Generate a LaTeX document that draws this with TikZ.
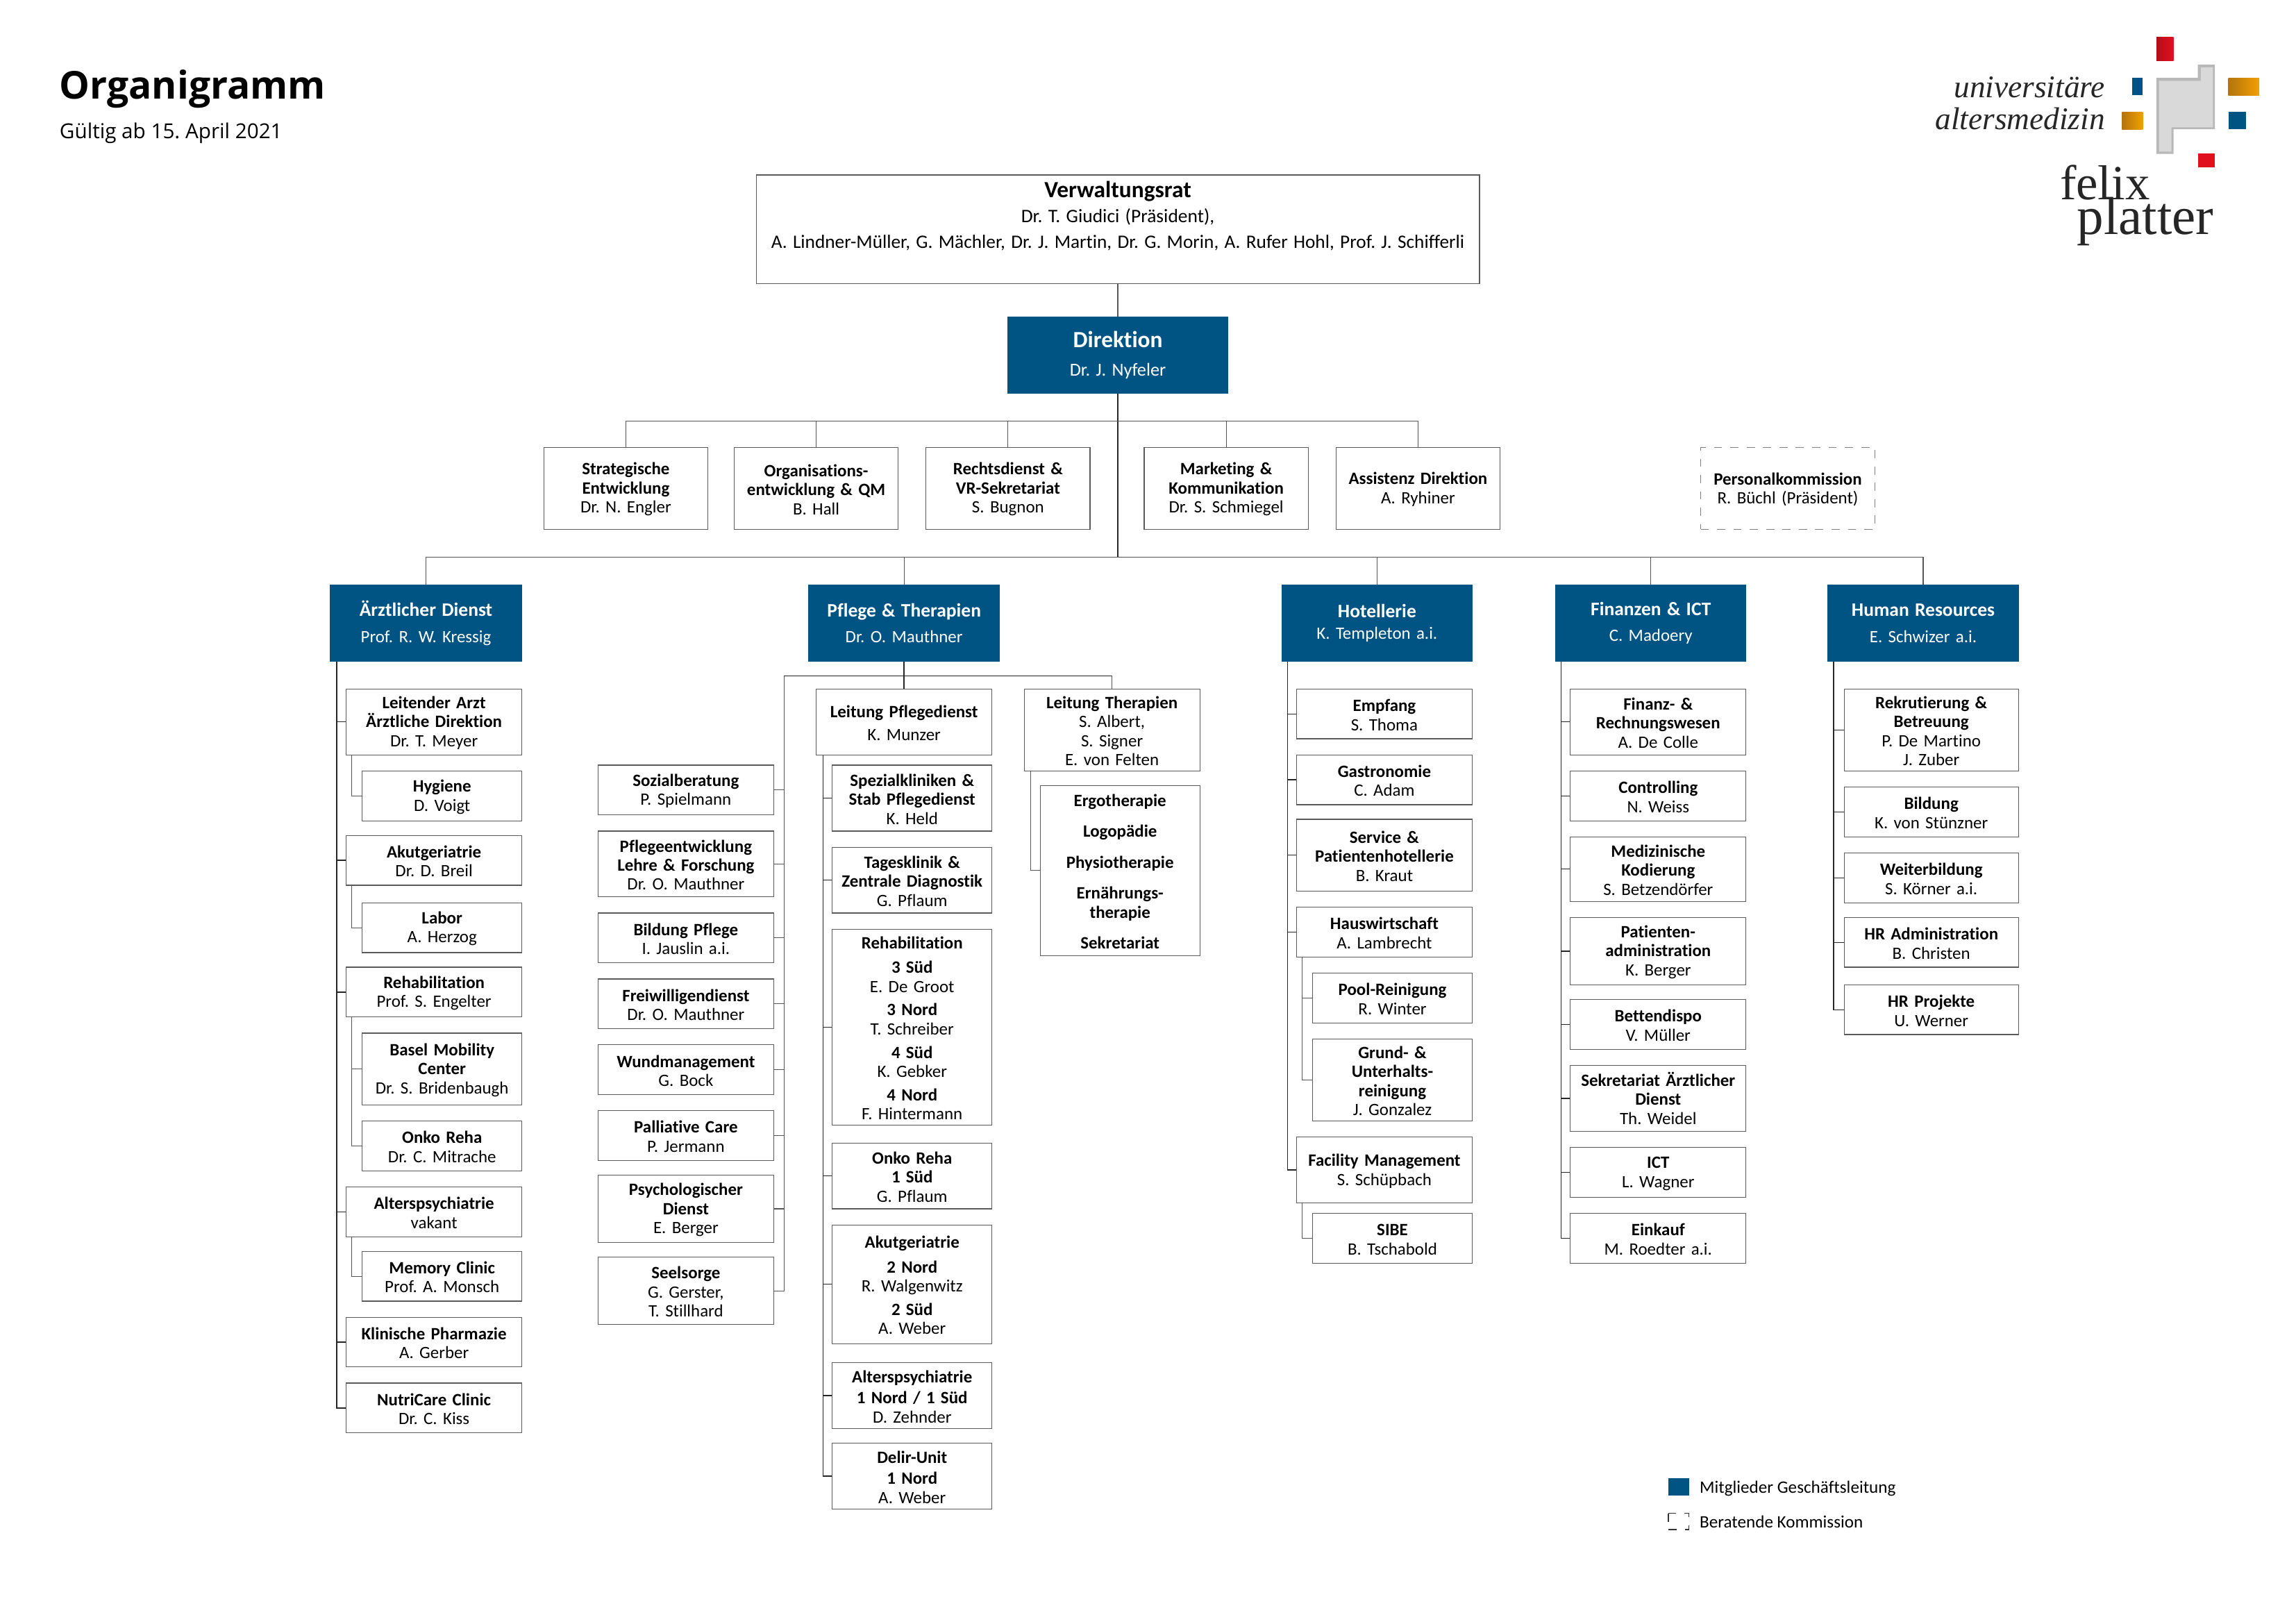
\documentclass[tikz,border=0pt]{standalone}
\usepackage{fontspec}
\setmainfont{Carlito}[Ligatures=NoCommon]
\newfontfamily\opn{Open Sans}
\newfontfamily\logofont{Liberation Serif}
\frenchspacing
\definecolor{ufpblue}{HTML}{005483}
\definecolor{edgegray}{HTML}{5A5A5A}
\definecolor{linkgray}{HTML}{555555}
\definecolor{logored}{HTML}{E1101F}
\definecolor{logoor}{HTML}{F2A000}
\definecolor{logoordark}{HTML}{B4740F}
\definecolor{logogray}{HTML}{D9D9D9}
\tikzset{
  boxst/.style={draw=edgegray,line width=.3pt,inner sep=0pt,align=center,font=\fontsize{6.35}{7}\selectfont},
  bluest/.style={fill=ufpblue,draw=ufpblue,line width=.3pt,inner sep=0pt,align=center,text=white,font=\fontsize{6.35}{9.6}\selectfont},
  dashst/.style={boxst,draw=gray,dashed,line width=.4pt},
  link/.style={draw=linkgray,line width=.3pt},
  spine/.style={draw=black!85,line width=.35pt},
  plainst/.style={inner sep=0pt,anchor=base west},
  logotext/.style={inner sep=0pt,anchor=base east,text=black!85,font=\logofont\itshape\fontsize{11.55}{12}\selectfont},
}
\newcommand{\bx}[6]{\node[boxst,text width={(#4-#2)*0.537pt},minimum height={(#5-#3)*0.537pt}] (#1) at ({(#2+#4)/2},{(#3+#5)/2}) {\rule{0pt}{5.2pt}#6};}
\newcommand{\bl}[6]{\node[bluest,text width={(#4-#2)*0.537pt},minimum height={(#5-#3)*0.537pt}] (#1) at ({(#2+#4)/2},{(#3+#5)/2}) {#6};}
\newcommand{\hd}[1]{\textbf{#1}}
\newcommand{\hb}[1]{{\fontsize{7}{9.6}\selectfont\textbf{#1}}}
\begin{document}
\begin{tikzpicture}[x=0.537pt,y=-0.537pt]
\useasboundingbox (-0.4,0.5) rectangle (1567.6,1109.1);
% title
\node[plainst,font=\opn\fontsize{14.05}{15}\selectfont\bfseries] (title) at (40,68) {Organigramm};
\node[plainst,font=\opn\fontsize{7.55}{9}\selectfont] (sub) at (40,95) {Gültig ab 15. April 2021};
% logo
\shade[left color=logored!80!black,right color=logored] (1472.3,26) rectangle (1484,42);
\fill[ufpblue] (1455.7,53.7) rectangle (1463,65.6);
\shade[left color=logoordark,right color=logoor] (1521.4,53.7) rectangle (1542.5,65.6);
\shade[left color=logoordark,right color=logoor] (1448.8,77) rectangle (1463,88.8);
\fill[ufpblue] (1521.4,77) rectangle (1533.2,88.8);
\fill[logored] (1500.5,105.4) rectangle (1512.2,114.6);
\fill[logogray!85!black] (1500.5,44.6) -- (1512.2,44.6) -- (1512.2,88.8) -- (1484,88.8) -- (1484,105.6) -- (1472.2,105.6) -- (1472.2,53.7) -- (1500.5,53.7) -- cycle;
\fill[logogray] (1502.5,46.6) -- (1510.8,46.6) -- (1510.8,87.4) -- (1482.5,87.4) -- (1482.5,104) -- (1474,104) -- (1474,55.7) -- (1502.5,55.7) -- cycle;
\node[logotext] (lg1) at (1437.5,67) {universitäre};
\node[logotext] (lg2) at (1437.5,89) {altersmedizin};
\node[inner sep=0pt,anchor=base west,text=black!85,text width=70pt,align=left,font=\logofont\fontsize{18}{12}\selectfont] (lg3) at (1406,136.8) {\lineskiplimit=-20pt\relax felix\\[-2.1pt]\hspace*{6.3pt}{\fontsize{19.6}{12}\selectfont platter}};
% top
\bx{vr}{516}{120}{1010}{194}{{\fontsize{8.5}{9}\selectfont\textbf{Verwaltungsrat}}\\[-.6pt]{\fontsize{7}{9.6}\selectfont Dr. T. Giudici (Präsident),\hspace*{8pt}\\[2.4pt]{\fontsize{6.95}{9.6}\selectfont A. Lindner-Müller, G. Mächler, Dr. J. Martin, Dr. G. Morin, A. Rufer Hohl, Prof. J. Schifferli}\hspace*{5.4pt}}\\[3.6pt]\mbox{}}
\bl{dir}{688}{217}{838}{269}{{\fontsize{8.5}{11}\selectfont\textbf{Direktion}}\\[1pt]{\fontsize{6.7}{8}\selectfont Dr. J. Nyfeler}}
\bx{st}{371}{306}{483}{362}{\hd{Strategische\\Entwicklung}\\Dr. N. Engler}
\bx{og}{501}{306}{613}{362}{\hd{Organisations-\\entwicklung \& QM}\\B. Hall}
\bx{re}{632}{306}{744}{362}{\hd{Rechtsdienst \&\\VR-Sekretariat}\\S. Bugnon}
\bx{ma}{781}{306}{893}{362}{\hd{Marketing \&\\Kommunikation}\\Dr. S. Schmiegel}
\bx{as}{912}{306}{1024}{362}{\hd{Assistenz Direktion}\\A. Ryhiner}
\node[dashst,text width={119*0.537pt},minimum height={56*0.537pt}] (pk) at (1220.5,334) {\rule{0pt}{5.2pt}\hd{Personalkommission}\\R. Büchl (Präsident)};
% blue heads
\bl{ad}{225}{400}{356}{452}{\hb{Ärztlicher Dienst}\\Prof. R. W. Kressig}
\bl{pt}{552}{400}{682}{452}{\hb{Pflege \& Therapien}\\Dr. O. Mauthner}
\bl{ho}{875}{400}{1005}{452}{\hb{Hotellerie}\\[-1.5pt]K. Templeton a.i.}
\bl{fi}{1062}{400}{1192}{452}{\hb{Finanzen \& ICT}\\C. Madoery}
\bl{hr}{1248}{400}{1378}{452}{\hb{Human Resources}\\E. Schwizer a.i.}
% buses
\coordinate (bus1) at (763,288);
\coordinate (bus2) at (763,381);
\coordinate (bal) at (535,462);
\coordinate (bar) at (759,462);
\draw[link] (vr.south) -- (dir.north);
\draw[spine] (dir.south) -- (bus2);
\draw[link] (bus1) -| (st.north);
\draw[link] (bus1) -| (og.north);
\draw[link] (bus1) -| (re.north);
\draw[link] (bus1) -| (ma.north);
\draw[link] (bus1) -| (as.north);
\draw[link] (bus2) -| (ad.north);
\draw[link] (bus2) -| (pt.north);
\draw[link] (bus2) -| (ho.north);
\draw[link] (bus2) -| (fi.north);
\draw[link] (bus2) -| (hr.north);
% Aerztlicher Dienst
\bx{a1}{236}{471}{356}{516}{\hd{Leitender Arzt\\Ärztliche Direktion}\\Dr. T. Meyer}
\bx{a1a}{247}{527}{356}{561}{\hd{Hygiene}\\D. Voigt}
\bx{a2}{236}{571}{356}{605}{\hd{Akutgeriatrie}\\Dr. D. Breil}
\bx{a2a}{247}{617}{356}{651}{\hd{Labor}\\A. Herzog}
\bx{a3}{236}{661}{356}{695}{\hd{Rehabilitation}\\Prof. S. Engelter}
\bx{a3a}{247}{706}{356}{755}{\hd{Basel Mobility\\Center}\\Dr. S. Bridenbaugh}
\bx{a3b}{247}{766}{356}{800}{\hd{Onko Reha}\\Dr. C. Mitrache}
\bx{a4}{236}{811}{356}{845}{\hd{Alterspsychiatrie}\\vakant}
\bx{a4a}{247}{855}{356}{889}{\hd{Memory Clinic}\\Prof. A. Monsch}
\bx{a5}{236}{900}{356}{934}{\hd{Klinische Pharmazie}\\A. Gerber}
\bx{a6}{236}{945}{356}{979}{\hd{NutriCare Clinic}\\Dr. C. Kiss}
\foreach \n in {a1,a2,a3,a4,a5,a6} \draw[spine] ([xshift=2.6pt]ad.south west) |- (\n.west);
\draw[link] ([xshift=2.2pt]a1.south west) |- (a1a.west);
\draw[link] ([xshift=2.2pt]a2.south west) |- (a2a.west);
\draw[link] ([xshift=2.2pt]a3.south west) |- (a3a.west);
\draw[link] ([xshift=2.2pt]a3.south west) |- (a3b.west);
\draw[link] ([xshift=2.2pt]a4.south west) |- (a4a.west);
% Pflege left
\bx{l1}{408}{523}{528}{557}{\hd{Sozialberatung}\\P. Spielmann}
\bx{l2}{408}{568}{528}{613}{\hd{Pflegeentwicklung\\Lehre \& Forschung}\\Dr. O. Mauthner}
\bx{l3}{408}{624}{528}{658}{\hd{Bildung Pflege}\\I. Jauslin a.i.}
\bx{l4}{408}{669}{528}{703}{\hd{Freiwilligendienst}\\Dr. O. Mauthner}
\bx{l5}{408}{714}{528}{748}{\hd{Wundmanagement}\\G. Bock}
\bx{l6}{408}{759}{528}{793}{\hd{Palliative Care}\\P. Jermann}
\bx{l7}{408}{803}{528}{849}{\hd{Psychologischer\\Dienst}\\E. Berger}
\bx{l8}{408}{859}{528}{905}{\hd{Seelsorge}\\G. Gerster,\\T. Stillhard}
\foreach \n in {l1,l2,l3,l4,l5,l6,l7,l8} \draw[link] (\n.east) -| (bal);
% Pflege
\bx{p0}{557}{471}{677}{516}{\hd{Leitung Pflegedienst}\\[1.4pt]K. Munzer}
\bx{t0}{699}{471}{819}{527}{\hd{Leitung Therapien}\\S. Albert,\\S. Signer\\E. von Felten}
\bx{p1}{568}{523}{677}{568}{\hd{Spezialkliniken \&\\Stab Pflegedienst}\\K. Held}
\bx{p2}{568}{579}{677}{624}{\hd{Tagesklinik \&\\Zentrale Diagnostik}\\G. Pflaum}
\bx{p3}{568}{635}{677}{769}{\hd{Rehabilitation}\\[2pt]\hd{3 Süd}\\E. De Groot\\[1.6pt]\hd{3 Nord}\\T. Schreiber\\[1.6pt]\hd{4 Süd}\\K. Gebker\\[1.6pt]\hd{4 Nord}\\F. Hintermann}
\bx{p4}{568}{781}{677}{826}{\hd{Onko Reha\\1 Süd}\\G. Pflaum}
\bx{p5}{568}{837}{677}{918}{\hd{Akutgeriatrie}\\[2pt]\hd{2 Nord}\\R. Walgenwitz\\[1.6pt]\hd{2 Süd}\\A. Weber}
\bx{p6}{568}{931}{677}{976}{\hd{Alterspsychiatrie}\\[.8pt]\hd{1 Nord / 1 Süd}\\D. Zehnder}
\bx{p7}{568}{986}{677}{1031}{\hd{Delir-Unit}\\[.8pt]\hd{1 Nord}\\A. Weber}
\bx{t1}{710}{537}{819}{653}{\hd{Ergotherapie}\\[4.3pt]\hd{Logopädie}\\[4.3pt]\hd{Physiotherapie}\\[4.3pt]\hd{Ernährungs-\\therapie}\\[4.3pt]\hd{Sekretariat}}
\draw[spine] (pt.south) -- (p0.north);
\draw[spine] (bal) -- (bar);
\draw[link] (bar) -- (t0.north);
\foreach \n in {p1,p2,p3,p4,p5,p6,p7} \draw[spine] ([xshift=2.6pt]p0.south west) |- (\n.west);
\draw[link] ([xshift=2.6pt]t0.south west) |- (t1.west);
% Hotellerie
\bx{h1}{885}{471}{1005}{505}{\hd{Empfang}\\S. Thoma}
\bx{h2}{885}{516}{1005}{550}{\hd{Gastronomie}\\C. Adam}
\bx{h3}{885}{560}{1005}{609}{\hd{Service \&\\Patientenhotellerie}\\B. Kraut}
\bx{h4}{885}{620}{1005}{654}{\hd{Hauswirtschaft}\\A. Lambrecht}
\bx{h4a}{896}{665}{1005}{699}{\hd{Pool-Reinigung}\\R. Winter}
\bx{h4b}{896}{710}{1005}{766}{\hd{Grund- \&\\Unterhalts-\\reinigung}\\J. Gonzalez}
\bx{h5}{885}{777}{1005}{822}{\hd{Facility Management}\\S. Schüpbach}
\bx{h5a}{896}{829}{1005}{863}{\hd{SIBE}\\B. Tschabold}
\foreach \n in {h1,h2,h3,h4,h5} \draw[spine] ([xshift=2.2pt]ho.south west) |- (\n.west);
\draw[link] ([xshift=2.2pt]h4.south west) |- (h4a.west);
\draw[link] ([xshift=2.2pt]h4.south west) |- (h4b.west);
\draw[link] ([xshift=2.2pt]h5.south west) |- (h5a.west);
% Finanzen
\bx{f1}{1072}{471}{1192}{516}{\hd{Finanz- \&\\Rechnungswesen}\\A. De Colle}
\bx{f2}{1072}{527}{1192}{561}{\hd{Controlling}\\N. Weiss}
\bx{f3}{1072}{572}{1192}{616}{\hd{Medizinische\\Kodierung}\\S. Betzendörfer}
\bx{f4}{1072}{627}{1192}{673}{\hd{Patienten-\\administration}\\K. Berger}
\bx{f5}{1072}{683}{1192}{717}{\hd{Bettendispo}\\V. Müller}
\bx{f6}{1072}{728}{1192}{773}{\hd{Sekretariat Ärztlicher\\Dienst}\\Th. Weidel}
\bx{f7}{1072}{784}{1192}{818}{\hd{ICT}\\L. Wagner}
\bx{f8}{1072}{829}{1192}{863}{\hd{Einkauf}\\M. Roedter a.i.}
\foreach \n in {f1,f2,f3,f4,f5,f6,f7,f8} \draw[spine] ([xshift=2.2pt]fi.south west) |- (\n.west);
% HR
\bx{r1}{1259}{471}{1378}{527}{\hd{Rekrutierung \&\\Betreuung}\\P. De Martino\\J. Zuber}
\bx{r2}{1259}{538}{1378}{572}{\hd{Bildung}\\K. von Stünzner}
\bx{r3}{1259}{583}{1378}{617}{\hd{Weiterbildung}\\S. Körner a.i.}
\bx{r4}{1259}{627}{1378}{661}{\hd{HR Administration}\\B. Christen}
\bx{r5}{1259}{673}{1378}{707}{\hd{HR Projekte}\\U. Werner}
\foreach \n in {r1,r2,r3,r4,r5} \draw[spine] ([xshift=2.2pt]hr.south west) |- (\n.west);
% legend
\fill[ufpblue] (1139,1010) rectangle (1153,1022);
\draw[black!80,dashed,line width=.35pt] (1139,1034) rectangle (1153,1045);
\node[plainst,font=\fontsize{6.4}{7}\selectfont] (lega) at (1160,1020) {Mitglieder Geschäftsleitung};
\node[plainst,font=\fontsize{6.4}{7}\selectfont] (legb) at (1160,1044) {Beratende Kommission};
\end{tikzpicture}
\end{document}
